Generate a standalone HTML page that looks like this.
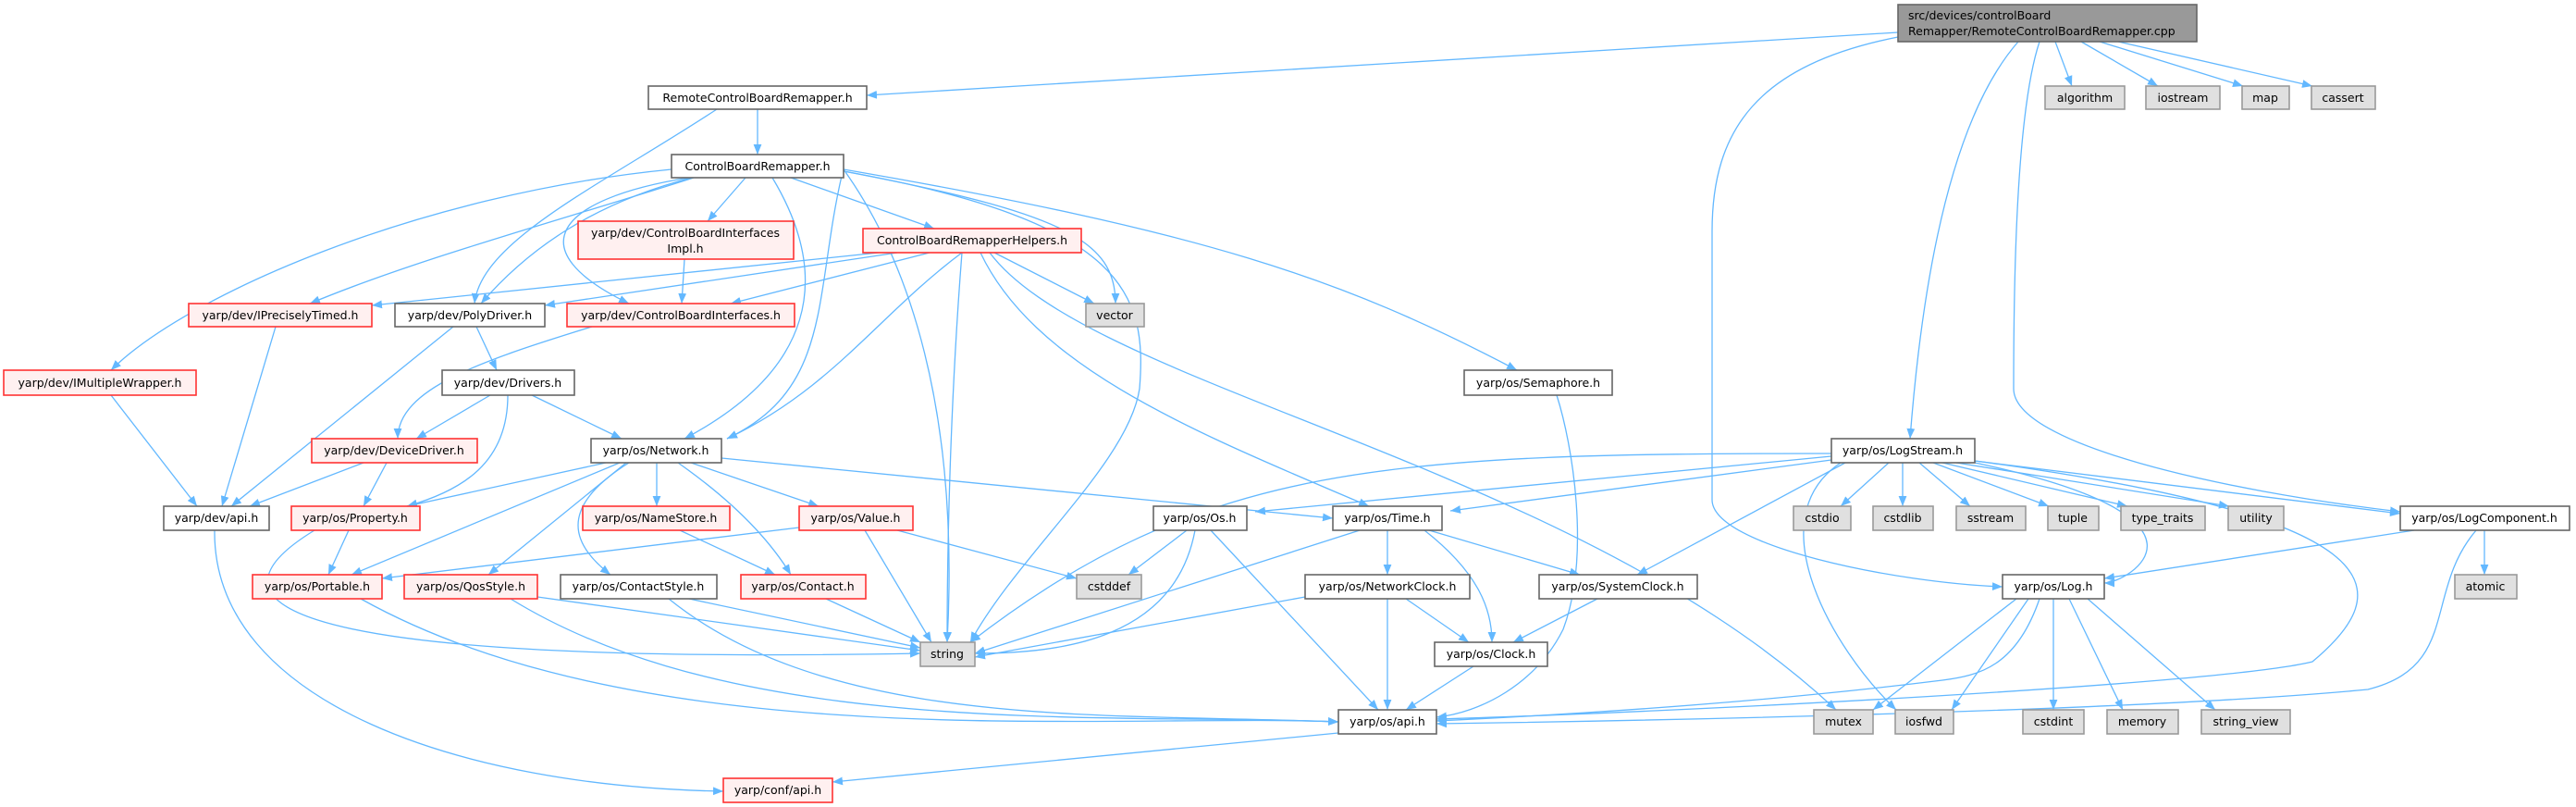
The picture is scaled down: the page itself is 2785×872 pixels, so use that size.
<!DOCTYPE html>
<html><head><meta charset="utf-8"><style>
html,body{margin:0;padding:0;background:#fff}
svg{display:block}
text{font-family:"DejaVu Sans","Liberation Sans",sans-serif;font-size:12.5px;fill:#000}
.e{fill:none;stroke:#63b8ff;stroke-width:1.3}
.n rect{stroke-width:1.6}
.w{fill:#fff;stroke:#666}
.r{fill:#fff0f0;stroke:#ff3333}
.g{fill:#e0e0e0;stroke:#999}
.m{fill:#999;stroke:#666}
</style></head><body>
<svg width="2785" height="872" viewBox="0 0 2785 872" xmlns="http://www.w3.org/2000/svg">
<defs><marker id="a" viewBox="0 0 10 10" refX="10" refY="5" markerWidth="11" markerHeight="11" markerUnits="userSpaceOnUse" orient="auto"><path d="M0,1 L10,5 L0,9 z" fill="#63b8ff"/></marker></defs>
<g class="e" marker-end="url(#a)">
<path d="M2052,35 L937,103"/>
<path d="M2182,45 Q2090,150 2065,474"/>
<path d="M2052,40 C1900,70 1851,140 1851,250 L1851,540 C1851,590 2050,630 2165,634"/>
<path d="M2205,45 C2180,120 2177,300 2177,420 C2177,480 2400,530 2595,553"/>
<path d="M2222,45 L2240,93"/>
<path d="M2250,45 L2333,93"/>
<path d="M2270,45 L2425,93"/>
<path d="M2290,45 L2500,93"/>
<path d="M819,118 L819,167"/>
<path d="M775,118 C650,200 520,260 513,328"/>
<path d="M806,192 L765,239"/>
<path d="M855,192 L1010,247"/>
<path d="M750,192 C600,240 450,280 335,328"/>
<path d="M748,192 C640,220 570,270 520,328"/>
<path d="M745,192 C600,215 560,270 680,328"/>
<path d="M726,183 C450,210 200,320 120,400"/>
<path d="M835,192 C900,300 880,400 740,474"/>
<path d="M910,190 C880,320 900,420 786,474"/>
<path d="M912,185 C1150,230 1206,260 1206,328"/>
<path d="M912,185 C1220,240 1240,320 1232,420 C1220,500 1100,600 1049,694"/>
<path d="M912,183 C1300,250 1450,300 1640,400"/>
<path d="M912,183 C960,250 1040,400 1024,694"/>
<path d="M950,273 L402,330"/>
<path d="M970,273 L589,330"/>
<path d="M1005,273 L790,328"/>
<path d="M1075,273 L1183,328"/>
<path d="M1040,273 C950,340 900,420 786,474"/>
<path d="M1040,273 C1030,400 1024,550 1024,694"/>
<path d="M1060,273 C1120,400 1300,470 1480,547"/>
<path d="M1070,273 C1180,420 1700,500 1985,767"/>
<path d="M740,280 L737,328"/>
<path d="M298,353 L240,547"/>
<path d="M490,353 L250,547"/>
<path d="M515,353 L537,400"/>
<path d="M640,353 C520,390 430,420 430,474"/>
<path d="M120,427 L213,547"/>
<path d="M530,427 L450,474"/>
<path d="M575,427 L672,474"/>
<path d="M549,427 C549,500 500,530 440,547"/>
<path d="M1683,427 C1700,480 1720,600 1690,680 C1660,740 1600,770 1553,775"/>
<path d="M393,500 L270,547"/>
<path d="M418,500 L393,547"/>
<path d="M655,500 L440,547"/>
<path d="M670,500 L380,621"/>
<path d="M677,500 L528,621"/>
<path d="M680,500 C600,550 620,590 660,621"/>
<path d="M710,500 L710,547"/>
<path d="M733,500 C790,540 830,580 855,621"/>
<path d="M747,500 L885,547"/>
<path d="M780,495 L1441,560"/>
<path d="M232,573 C230,760 500,850 782,855"/>
<path d="M377,573 L355,621"/>
<path d="M340,573 C230,640 240,720 995,706"/>
<path d="M735,573 L838,621"/>
<path d="M864,570 L413,625"/>
<path d="M935,573 L1007,694"/>
<path d="M970,573 L1164,625"/>
<path d="M390,647 C700,820 1200,770 1447,780"/>
<path d="M581,645 L995,703"/>
<path d="M552,647 C800,800 1200,770 1447,780"/>
<path d="M745,647 L995,700"/>
<path d="M723,647 C900,790 1200,770 1447,780"/>
<path d="M893,647 L995,694"/>
<path d="M1283,573 L1220,621"/>
<path d="M1292,573 C1270,690 1150,706 1054,706"/>
<path d="M1309,573 L1490,767"/>
<path d="M1447,792 L900,845"/>
<path d="M1980,490 C1500,490 1300,500 1049,694"/>
<path d="M1980,493 L1357,553"/>
<path d="M1980,497 L1568,552"/>
<path d="M1995,500 L1770,621"/>
<path d="M1990,500 C1900,560 1980,700 2050,767"/>
<path d="M2042,500 L1990,547"/>
<path d="M2057,500 L2057,547"/>
<path d="M2075,500 L2130,547"/>
<path d="M2090,500 L2215,547"/>
<path d="M2100,500 L2300,547"/>
<path d="M2115,500 L2410,547"/>
<path d="M2135,500 C2420,560 2300,630 2275,630"/>
<path d="M2135,498 L2595,555"/>
<path d="M2135,498 C2600,560 2590,640 2500,715 C2400,740 1800,770 1553,777"/>
<path d="M1470,573 L1054,706"/>
<path d="M1500,573 L1500,621"/>
<path d="M1545,573 L1708,621"/>
<path d="M1540,573 C1600,620 1613,660 1613,694"/>
<path d="M1411,645 L1054,710"/>
<path d="M1500,647 L1500,767"/>
<path d="M1520,647 L1588,694"/>
<path d="M1727,647 L1636,694"/>
<path d="M1593,720 L1520,767"/>
<path d="M2180,647 L2025,767"/>
<path d="M2193,647 L2110,767"/>
<path d="M2220,647 L2220,767"/>
<path d="M2237,647 L2295,767"/>
<path d="M2257,647 L2395,767"/>
<path d="M2205,647 C2180,720 2140,730 2100,735 C1900,760 1700,772 1553,779"/>
<path d="M2610,573 L2275,625"/>
<path d="M2686,573 L2686,621"/>
<path d="M2677,573 C2620,640 2660,720 2560,745 C2300,770 1700,780 1553,782"/>
</g>
<g class="n" text-anchor="middle">
<rect class="m" x="2052" y="5" width="323" height="40"/>
<text x="2063" y="21" text-anchor="start">src/devices/controlBoard</text>
<text x="2063" y="38" text-anchor="start">Remapper/RemoteControlBoardRemapper.cpp</text>
<rect class="w" x="701" y="93" width="236" height="25"/><text x="819" y="110">RemoteControlBoardRemapper.h</text>
<rect class="w" x="726" y="167" width="186" height="25"/><text x="819" y="184">ControlBoardRemapper.h</text>
<rect class="r" x="625" y="239" width="233" height="41"/><text x="741" y="256">yarp/dev/ControlBoardInterfaces</text><text x="741" y="273">Impl.h</text>
<rect class="r" x="933" y="247" width="236" height="26"/><text x="1051" y="264">ControlBoardRemapperHelpers.h</text>
<rect class="r" x="204" y="328" width="198" height="25"/><text x="303" y="345">yarp/dev/IPreciselyTimed.h</text>
<rect class="w" x="427" y="328" width="162" height="25"/><text x="508" y="345">yarp/dev/PolyDriver.h</text>
<rect class="r" x="613" y="328" width="246" height="25"/><text x="736" y="345">yarp/dev/ControlBoardInterfaces.h</text>
<rect class="g" x="1174" y="328" width="63" height="25"/><text x="1205" y="345">vector</text>
<rect class="r" x="4" y="400" width="208" height="27"/><text x="108" y="418">yarp/dev/IMultipleWrapper.h</text>
<rect class="w" x="478" y="400" width="143" height="27"/><text x="549" y="418">yarp/dev/Drivers.h</text>
<rect class="w" x="1583" y="400" width="160" height="27"/><text x="1663" y="418">yarp/os/Semaphore.h</text>
<rect class="g" x="2211" y="93" width="86" height="25"/><text x="2254" y="110">algorithm</text>
<rect class="g" x="2320" y="93" width="80" height="25"/><text x="2360" y="110">iostream</text>
<rect class="g" x="2424" y="93" width="51" height="25"/><text x="2449" y="110">map</text>
<rect class="g" x="2499" y="93" width="69" height="25"/><text x="2533" y="110">cassert</text>
<rect class="r" x="337" y="474" width="179" height="26"/><text x="426" y="491">yarp/dev/DeviceDriver.h</text>
<rect class="w" x="639" y="474" width="141" height="26"/><text x="709" y="491">yarp/os/Network.h</text>
<rect class="w" x="1980" y="474" width="155" height="26"/><text x="2057" y="491">yarp/os/LogStream.h</text>
<rect class="w" x="177" y="547" width="114" height="26"/><text x="234" y="564">yarp/dev/api.h</text>
<rect class="r" x="315" y="547" width="139" height="26"/><text x="384" y="564">yarp/os/Property.h</text>
<rect class="r" x="630" y="547" width="159" height="26"/><text x="709" y="564">yarp/os/NameStore.h</text>
<rect class="r" x="864" y="547" width="123" height="26"/><text x="925" y="564">yarp/os/Value.h</text>
<rect class="w" x="1247" y="547" width="101" height="26"/><text x="1297" y="564">yarp/os/Os.h</text>
<rect class="w" x="1441" y="547" width="118" height="26"/><text x="1500" y="564">yarp/os/Time.h</text>
<rect class="g" x="1939" y="547" width="62" height="26"/><text x="1970" y="564">cstdio</text>
<rect class="g" x="2025" y="547" width="65" height="26"/><text x="2057" y="564">cstdlib</text>
<rect class="g" x="2115" y="547" width="75" height="26"/><text x="2152" y="564">sstream</text>
<rect class="g" x="2214" y="547" width="55" height="26"/><text x="2241" y="564">tuple</text>
<rect class="g" x="2293" y="547" width="91" height="26"/><text x="2338" y="564">type_traits</text>
<rect class="g" x="2409" y="547" width="60" height="26"/><text x="2439" y="564">utility</text>
<rect class="w" x="2595" y="547" width="183" height="26"/><text x="2686" y="564">yarp/os/LogComponent.h</text>
<rect class="r" x="273" y="621" width="140" height="26"/><text x="343" y="638">yarp/os/Portable.h</text>
<rect class="r" x="437" y="621" width="144" height="26"/><text x="509" y="638">yarp/os/QosStyle.h</text>
<rect class="w" x="606" y="621" width="169" height="26"/><text x="690" y="638">yarp/os/ContactStyle.h</text>
<rect class="r" x="801" y="621" width="135" height="26"/><text x="868" y="638">yarp/os/Contact.h</text>
<rect class="g" x="1164" y="621" width="70" height="26"/><text x="1199" y="638">cstddef</text>
<rect class="w" x="1411" y="621" width="178" height="26"/><text x="1500" y="638">yarp/os/NetworkClock.h</text>
<rect class="w" x="1664" y="621" width="171" height="26"/><text x="1749" y="638">yarp/os/SystemClock.h</text>
<rect class="w" x="2165" y="621" width="110" height="26"/><text x="2220" y="638">yarp/os/Log.h</text>
<rect class="g" x="2654" y="621" width="67" height="26"/><text x="2687" y="638">atomic</text>
<rect class="g" x="995" y="694" width="59" height="26"/><text x="1024" y="711">string</text>
<rect class="w" x="1551" y="694" width="122" height="26"/><text x="1612" y="711">yarp/os/Clock.h</text>
<rect class="g" x="1961" y="767" width="64" height="26"/><text x="1993" y="784">mutex</text>
<rect class="g" x="2049" y="767" width="63" height="26"/><text x="2080" y="784">iosfwd</text>
<rect class="g" x="2187" y="767" width="66" height="26"/><text x="2220" y="784">cstdint</text>
<rect class="g" x="2278" y="767" width="77" height="26"/><text x="2316" y="784">memory</text>
<rect class="g" x="2380" y="767" width="96" height="26"/><text x="2428" y="784">string_view</text>
<rect class="w" x="1447" y="767" width="106" height="26"/><text x="1500" y="784">yarp/os/api.h</text>
<rect class="r" x="782" y="841" width="118" height="26"/><text x="841" y="858">yarp/conf/api.h</text>
</g>
</svg>
</body></html>
